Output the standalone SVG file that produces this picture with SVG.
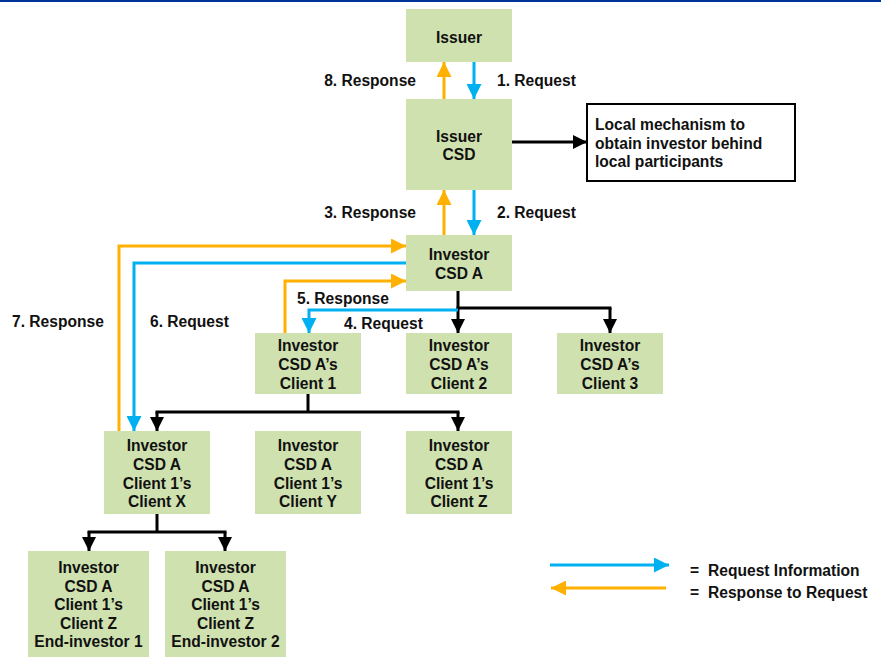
<svg xmlns="http://www.w3.org/2000/svg" width="881" height="658" viewBox="0 0 881 658">
<style>
.box{fill:#d0e1b0}
.t{font-family:"Liberation Sans",Arial,sans-serif;font-weight:bold;font-size:15.6px;fill:#111}
.c{text-anchor:middle}
.blk{stroke:#000;stroke-width:3;fill:none}
.blu{stroke:#00b0f0;stroke-width:3;fill:none}
.org{stroke:#ffb000;stroke-width:3;fill:none}
</style>
<defs>
<marker id="ab" viewBox="0 0 10 10" refX="10" refY="5" markerWidth="14" markerHeight="14" markerUnits="userSpaceOnUse" orient="auto"><path d="M0,0 L10,5 L0,10 z" fill="#000"/></marker>
<marker id="au" viewBox="0 0 10 10" refX="10" refY="5" markerWidth="15" markerHeight="15" markerUnits="userSpaceOnUse" orient="auto"><path d="M0,0 L10,5 L0,10 z" fill="#00b0f0"/></marker>
<marker id="ao" viewBox="0 0 10 10" refX="10" refY="5" markerWidth="15" markerHeight="15" markerUnits="userSpaceOnUse" orient="auto"><path d="M0,0 L10,5 L0,10 z" fill="#ffb000"/></marker>
</defs>
<rect x="0" y="0" width="881" height="2" fill="#003399"/>

<g id="connectors">
<line class="blu" x1="474" y1="62" x2="474" y2="99" marker-end="url(#au)"/>
<line class="org" x1="444" y1="99" x2="444" y2="62" marker-end="url(#ao)"/>
<line class="blu" x1="474" y1="190" x2="474" y2="235" marker-end="url(#au)"/>
<line class="org" x1="444" y1="235" x2="444" y2="190" marker-end="url(#ao)"/>
<line class="blk" x1="512" y1="142" x2="587" y2="142" marker-end="url(#ab)"/>
<polyline class="blk" points="458,291 458,308"/>
<line class="blk" x1="456.5" y1="308" x2="611.5" y2="308"/>
<line class="blk" x1="458" y1="308" x2="458" y2="333" marker-end="url(#ab)"/>
<line class="blk" x1="610" y1="308" x2="610" y2="333" marker-end="url(#ab)"/>
<polyline class="blu" points="458,310 309,310 309,333" marker-end="url(#au)"/>
<polyline class="org" points="285,333 285,281 406,281" marker-end="url(#ao)"/>
<polyline class="org" points="119,431 119,246 406,246" marker-end="url(#ao)"/>
<polyline class="blu" points="406,263 134,263 134,431" marker-end="url(#au)"/>
<line class="blk" x1="308" y1="394" x2="308" y2="412"/>
<line class="blk" x1="155.5" y1="412" x2="459.5" y2="412"/>
<line class="blk" x1="157" y1="412" x2="157" y2="431" marker-end="url(#ab)"/>
<line class="blk" x1="458" y1="412" x2="458" y2="431" marker-end="url(#ab)"/>
<line class="blk" x1="157" y1="514" x2="157" y2="532"/>
<line class="blk" x1="87.5" y1="532" x2="226.5" y2="532"/>
<line class="blk" x1="89" y1="532" x2="89" y2="551" marker-end="url(#ab)"/>
<line class="blk" x1="225" y1="532" x2="225" y2="551" marker-end="url(#ab)"/>
</g>

<g id="labels">
<text class="t" x="416" y="85.5" text-anchor="end">8. Response</text>
<text class="t" x="497" y="85.5">1. Request</text>
<text class="t" x="416" y="217.5" text-anchor="end">3. Response</text>
<text class="t" x="497" y="217.5">2. Request</text>
<text class="t" x="297" y="303.5">5. Response</text>
<text class="t" x="344" y="328.5">4. Request</text>
<text class="t" x="12" y="326.5">7. Response</text>
<text class="t" x="150" y="326.5">6. Request</text>
</g>

<g id="issuer"><rect class="box" x="406" y="9" width="106" height="53"/>
<text class="t c" x="459" y="42.5">Issuer</text></g>
<g id="issuer-csd"><rect class="box" x="406" y="99" width="106" height="91"/>
<text class="t c" x="459" y="141.5">Issuer</text><text class="t c" x="459" y="159.5">CSD</text></g>
<g id="local-mechanism"><rect x="587" y="104" width="208" height="77" fill="#fff" stroke="#000" stroke-width="2"/>
<text class="t" x="595" y="129.5">Local mechanism to</text>
<text class="t" x="595" y="148.5">obtain investor behind</text>
<text class="t" x="595" y="166.5">local participants</text></g>
<g id="investor-csd-a"><rect class="box" x="406" y="235" width="106" height="56"/>
<text class="t c" x="459" y="259.5">Investor</text><text class="t c" x="459" y="278.5">CSD A</text></g>

<g id="client1"><rect class="box" x="255" y="333" width="106" height="61"/>
<text class="t c" x="308" y="350.5">Investor</text><text class="t c" x="308" y="369.5">CSD A’s</text><text class="t c" x="308" y="388.5">Client 1</text></g>
<g id="client2"><rect class="box" x="406" y="333" width="106" height="61"/>
<text class="t c" x="459" y="350.5">Investor</text><text class="t c" x="459" y="369.5">CSD A’s</text><text class="t c" x="459" y="388.5">Client 2</text></g>
<g id="client3"><rect class="box" x="557" y="333" width="106" height="61"/>
<text class="t c" x="610" y="350.5">Investor</text><text class="t c" x="610" y="369.5">CSD A’s</text><text class="t c" x="610" y="388.5">Client 3</text></g>

<g id="client-x"><rect class="box" x="104" y="431" width="106" height="83"/>
<text class="t c" x="157" y="450.5">Investor</text><text class="t c" x="157" y="469.5">CSD A</text><text class="t c" x="157" y="488.5">Client 1’s</text><text class="t c" x="157" y="507">Client X</text></g>
<g id="client-y"><rect class="box" x="255" y="431" width="106" height="83"/>
<text class="t c" x="308" y="450.5">Investor</text><text class="t c" x="308" y="469.5">CSD A</text><text class="t c" x="308" y="488.5">Client 1’s</text><text class="t c" x="308" y="507">Client Y</text></g>
<g id="client-z"><rect class="box" x="406" y="431" width="106" height="83"/>
<text class="t c" x="459" y="450.5">Investor</text><text class="t c" x="459" y="469.5">CSD A</text><text class="t c" x="459" y="488.5">Client 1’s</text><text class="t c" x="459" y="507">Client Z</text></g>

<g id="end-investor1"><rect class="box" x="28" y="551" width="121" height="106"/>
<text class="t c" x="88.5" y="572.5">Investor</text><text class="t c" x="88.5" y="591.5">CSD A</text><text class="t c" x="88.5" y="609.5">Client 1’s</text><text class="t c" x="88.5" y="628.5">Client Z</text><text class="t c" x="88.5" y="646.5">End-investor 1</text></g>
<g id="end-investor2"><rect class="box" x="165" y="551" width="121" height="106"/>
<text class="t c" x="225.5" y="572.5">Investor</text><text class="t c" x="225.5" y="591.5">CSD A</text><text class="t c" x="225.5" y="609.5">Client 1’s</text><text class="t c" x="225.5" y="628.5">Client Z</text><text class="t c" x="225.5" y="646.5">End-investor 2</text></g>

<g id="legend">
<line class="blu" x1="550" y1="565" x2="669" y2="565" marker-end="url(#au)"/>
<line class="org" x1="666" y1="588" x2="551" y2="588" marker-end="url(#ao)"/>
<text class="t" x="690" y="575.5">=</text><text class="t" x="708" y="575.5">Request Information</text>
<text class="t" x="690" y="597.5">=</text><text class="t" x="708" y="597.5">Response to Request</text>
</g>
</svg>
